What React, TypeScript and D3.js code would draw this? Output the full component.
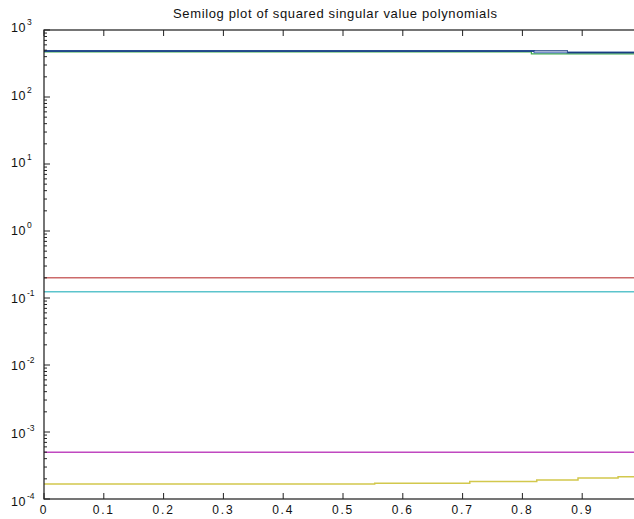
import * as d3 from "d3"

const title = "Semilog plot of squared singular value polynomials"
const xTicks = [0, 0.1, 0.2, 0.3, 0.4, 0.5, 0.6, 0.7, 0.8, 0.9, 1]
const xTickLabels = ["0", "0.1", "0.2", "0.3", "0.4", "0.5", "0.6", "0.7", "0.8", "0.9", "1"]
const yExponents = [-4, -3, -2, -1, 0, 1, 2, 3]

// series (x, value)
const greenX = [0, 0.815, 0.815, 1]
const greenV = [472, 472, 440, 440]
const blueX = [0, 0.82, 0.82, 1]
const blueV = [486, 486, 460, 460]
const navyX = [0, 0.875, 0.875, 1]
const navyV = [486, 486, 460, 460]
const paleX = [0.82, 0.875]
const paleV = [473, 473]
const redX = [0, 1]
const redV = [0.201, 0.201]
const cyanX = [0, 1]
const cyanV = [0.124, 0.124]
const magentaX = [0, 1]
const magentaV = [4.98e-4, 4.98e-4]
const yellowX = [0, 0.553, 0.712, 0.824, 0.893, 0.96, 1]
const yellowV = [1.67e-4, 1.72e-4, 1.82e-4, 1.92e-4, 2.05e-4, 2.15e-4, 2.15e-4]

const W = 634
const H = 519
const left = 44
const right = 642
const top = 30
const bottom = 499

export default function App() {
  const x = d3.scaleLinear().domain([0, 1]).range([left, right])
  const y = d3.scaleLog().domain([1e-4, 1e3]).range([bottom, top])
  const yLab = d3.scaleLog().domain([1e-4, 1e3]).range([501, 27.5])

  const series = [
    { xs: greenX, vs: greenV, color: "#3fae4a", w: 1.2, curve: d3.curveLinear },
    { xs: blueX, vs: blueV, color: "#2a55b0", w: 1.5, curve: d3.curveLinear },
    { xs: navyX, vs: navyV, color: "#183c80", w: 1.5, curve: d3.curveLinear },
    { xs: paleX, vs: paleV, color: "#c4cbe6", w: 1.2, curve: d3.curveLinear },
    { xs: redX, vs: redV, color: "#cc6a6a", w: 1.5, curve: d3.curveLinear },
    { xs: cyanX, vs: cyanV, color: "#5cc4cc", w: 1.5, curve: d3.curveLinear },
    { xs: magentaX, vs: magentaV, color: "#c048c0", w: 1.5, curve: d3.curveLinear },
    { xs: yellowX, vs: yellowV, color: "#d2c84c", w: 1.5, curve: d3.curveStepAfter },
  ]

  const minor: number[] = []
  yExponents.slice(0, -1).forEach((e) => {
    for (let k = 2; k <= 9; k++) minor.push(k * Math.pow(10, e))
  })

  const font = "'Liberation Sans', Arial, sans-serif"

  return (
    <svg
      width={W}
      height={H}
      style={{ position: "absolute", left: 0, top: 0, background: "#fff" }}
      fontFamily={font}
    >
      <defs>
        <clipPath id="plot">
          <rect x={left} y={top} width={right - left} height={bottom - top} />
        </clipPath>
      </defs>

      <g clipPath="url(#plot)">
        {series.map((s, i) => {
          const line = d3
            .line<number>()
            .x((d) => x(d))
            .y((d, j) => y(s.vs[j]))
            .curve(s.curve)
          return <path key={i} d={line(s.xs) || ""} fill="none" stroke={s.color} strokeWidth={s.w} />
        })}
      </g>

      {/* box */}
      <rect x={left} y={top} width={right - left} height={bottom - top} fill="none" stroke="#1a1a1a" strokeWidth={1.2} />

      {/* x ticks */}
      {xTicks.map((t, i) => (
        <g key={"xt" + i}>
          <line x1={x(t)} x2={x(t)} y1={bottom} y2={bottom - 6} stroke="#222" />
          <line x1={x(t)} x2={x(t)} y1={top} y2={top + 6} stroke="#222" />
          {x(t) + 8 < W && (
            <text x={x(t)} y={514} textAnchor="middle" fontSize={12} letterSpacing={1.8} fill="#111">
              {xTickLabels[i]}
            </text>
          )}
        </g>
      ))}

      {/* y ticks */}
      {yExponents.map((e) => {
        const v = Math.pow(10, e)
        return (
          <g key={"ye" + e}>
            <line x1={left} x2={left + 6} y1={y(v)} y2={y(v)} stroke="#222" />
            <line x1={right} x2={right - 6} y1={y(v)} y2={y(v)} stroke="#222" />
            <text x={26} y={yLab(v) + 4.5} textAnchor="end" fontSize={12.5} letterSpacing={0.5} fill="#111">
              10
            </text>
            <text x={27} y={yLab(v) - 2.5} textAnchor="start" fontSize={8.5} fill="#111">
              {e}
            </text>
          </g>
        )
      })}
      {minor.map((v, i) => (
        <g key={"ym" + i}>
          <line x1={left} x2={left + 3} y1={y(v)} y2={y(v)} stroke="#222" />
          <line x1={right} x2={right - 3} y1={y(v)} y2={y(v)} stroke="#222" />
        </g>
      ))}

      <text x={335} y={18} textAnchor="middle" fontSize={13} textLength={324} lengthAdjust="spacing" fill="#111">
        {title}
      </text>
    </svg>
  )
}
